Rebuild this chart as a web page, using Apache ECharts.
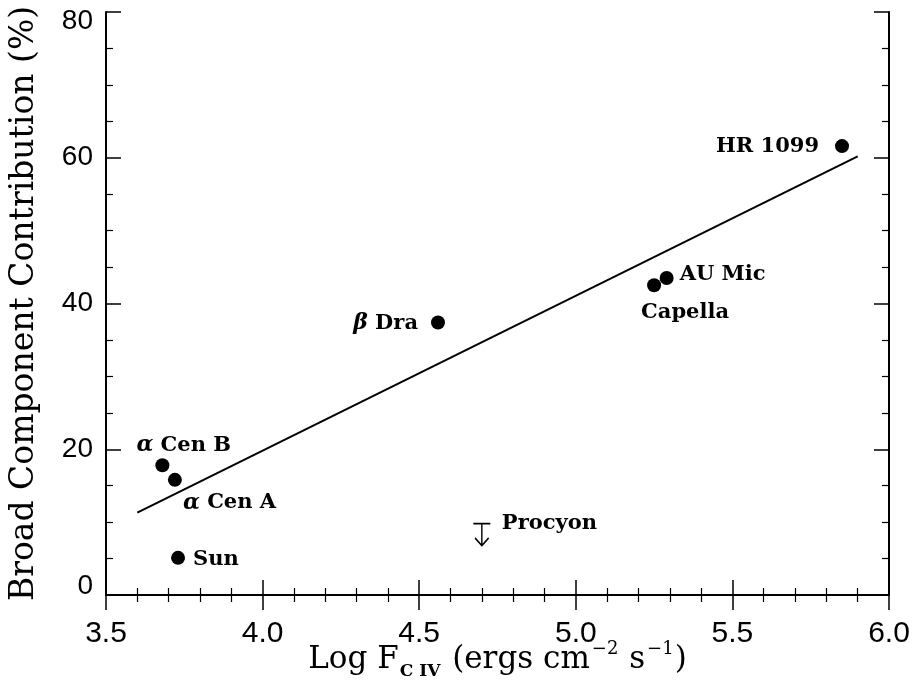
<!DOCTYPE html>
<html>
<head>
<meta charset="utf-8">
<script src="https://cdn.jsdelivr.net/npm/echarts@6/dist/echarts.min.js"></script>
<style>
  html, body { margin: 0; padding: 0; background: #ffffff; }
  #chart { width: 915px; height: 691px; }
</style>
</head>
<body>
<div id="chart"></div>
<script>
// Stars with a measured broad-component contribution
const starNames = ['HR 1099', 'AU Mic', 'Capella', 'β Dra', 'α Cen B', 'α Cen A', 'Sun'];
const logFluxCIV = [5.85, 5.29, 5.25, 4.56, 3.68, 3.72, 3.73];
const broadContribution = [61.6, 43.5, 42.5, 37.4, 17.8, 15.8, 5.1];

// Upper limit
const limitNames = ['Procyon'];
const limitLogFlux = [4.70];
const limitContribution = [9.8];

// Linear fit through the detections
const fitLogFlux = [3.60, 5.90];
const fitContribution = [11.3, 60.2];

// Axis ticks
const xTicks = [3.5, 4.0, 4.5, 5.0, 5.5, 6.0];
const yTicks = [0, 20, 40, 60, 80];

const SERIF = '"DejaVu Serif", "Liberation Serif", serif';
const SANS = '"Liberation Sans", Arial, sans-serif';

// Where each star's name sits relative to its dot
const labelPlacement = {
  'HR 1099': { align: 'right', offset: [-23, 0] },
  'AU Mic':  { align: 'left',  offset: [13, -3] },
  'Capella': { align: 'left',  offset: [-13, 27] },
  'β Dra':   { align: 'right', offset: [-20, 1] },
  'α Cen B': { align: 'left',  offset: [-26, -20] },
  'α Cen A': { align: 'left',  offset: [8, 23] },
  'Sun':     { align: 'left',  offset: [15, 2] },
  'Procyon': { align: 'left',  offset: [20, -11] }
};

const LABEL_SIZE = 21;
const labelRich = {
  g: { fontFamily: SERIF, fontStyle: 'italic', fontWeight: 'bold', fontSize: LABEL_SIZE + 1, color: '#000' }
};

function starLabel(name) {
  const m = name.match(/^([αβ]) (.*)$/);
  return m ? '{g|' + m[1] + '} ' + m[2] : name;
}

function pointData(names, xs, ys) {
  return names.map((n, i) => ({
    name: n,
    value: [xs[i], ys[i]],
    label: {
      show: true,
      position: 'inside',
      align: labelPlacement[n].align,
      verticalAlign: 'middle',
      offset: labelPlacement[n].offset,
      formatter: starLabel(n),
      rich: labelRich
    }
  }));
}

const xTickSet = new Set(xTicks.map(v => v.toFixed(1)));
const yTickSet = new Set(yTicks.map(v => String(v)));

const frameLine = { show: true, lineStyle: { color: '#000', width: 2 } };
const majorTick = { show: true, inside: true, length: 15, lineStyle: { color: '#000', width: 1.5 } };
const minorTickX = { show: true, splitNumber: 5, length: 7, lineStyle: { color: '#000', width: 1.2 } };
const minorTickY = { show: true, splitNumber: 4, length: 7, lineStyle: { color: '#000', width: 1.2 } };

const xBase = { type: 'value', min: xTicks[0], max: xTicks[xTicks.length - 1], interval: 0.5,
  axisLine: frameLine, axisTick: majorTick, minorTick: minorTickX, splitLine: { show: false } };
const yBase = { type: 'value', min: yTicks[0], max: yTicks[yTicks.length - 1], interval: 20,
  axisLine: frameLine, axisTick: majorTick, minorTick: minorTickY, splitLine: { show: false } };

const labelText = { fontFamily: SERIF, fontSize: LABEL_SIZE, fontWeight: 'bold', color: '#000', opacity: 1 };

const option = {
  backgroundColor: '#ffffff',
  animation: false,
  grid: { left: 106, right: 26, top: 12, bottom: 96, containLabel: false, outerBoundsMode: 'none' },
  xAxis: [
    Object.assign({}, xBase, {
      position: 'bottom',
      axisLabel: {
        margin: 24, fontFamily: SANS, fontSize: 30, color: '#000',
        formatter: v => xTickSet.has(v.toFixed(1)) ? v.toFixed(1) : ''
      },
      name: '{n|Log F}{sub|C IV}{n| (ergs cm}{sup|−2}{n| s}{sup|−1}{n|)}',
      nameLocation: 'middle',
      nameGap: 45,
      nameMoveOverlap: false,
      nameTextStyle: {
        rich: {
          n: { fontFamily: SERIF, fontSize: 31, color: '#000', lineHeight: 40, verticalAlign: 'middle' },
          sub: { fontFamily: SERIF, fontSize: 17, fontWeight: 'bold', color: '#000', lineHeight: 40, verticalAlign: 'bottom', padding: [0, 2, 0, 1] },
          sup: { fontFamily: SERIF, fontSize: 18, color: '#000', lineHeight: 40, verticalAlign: 'top', padding: [0, 1, 0, 2] }
        }
      }
    }),
    Object.assign({}, xBase, { position: 'top', axisLabel: { show: false } })
  ],
  yAxis: [
    Object.assign({}, yBase, {
      position: 'left',
      axisLabel: {
        margin: 13, fontFamily: SANS, fontSize: 28, lineHeight: 18, color: '#000',
        verticalAlignMinLabel: 'bottom', verticalAlignMaxLabel: 'top',
        formatter: v => yTickSet.has(String(v)) ? String(v) : ''
      },
      name: 'Broad Component Contribution (%)',
      nameLocation: 'middle',
      nameRotate: 90,
      nameGap: 65,
      nameMoveOverlap: false,
      nameTextStyle: { fontFamily: SERIF, fontSize: 33, color: '#000' }
    }),
    Object.assign({}, yBase, { position: 'right', axisLabel: { show: false } })
  ],
  series: [
    {
      name: 'fit',
      type: 'line',
      data: fitLogFlux.map((x, i) => [x, fitContribution[i]]),
      showSymbol: false,
      lineStyle: { color: '#000', width: 2 },
      silent: true,
      z: 2
    },
    {
      name: 'stars',
      type: 'scatter',
      data: pointData(starNames, logFluxCIV, broadContribution),
      symbol: 'circle',
      symbolSize: 14,
      itemStyle: { color: '#000', opacity: 1 },
      label: labelText,
      silent: true,
      z: 3
    },
    {
      name: 'upper limit',
      type: 'scatter',
      data: pointData(limitNames, limitLogFlux, limitContribution),
      symbol: 'path://M0,0L20,0M10,0L10,26M2,17L10,26L18,17',
      symbolSize: [17, 22],
      symbolOffset: [0, 11],
      itemStyle: { color: 'none', borderColor: '#000', borderWidth: 1.6, opacity: 1 },
      label: labelText,
      silent: true,
      z: 3
    }
  ]
};

const chart = echarts.init(document.getElementById('chart'), null, { renderer: 'canvas' });
chart.setOption(option);
</script>
</body>
</html>
